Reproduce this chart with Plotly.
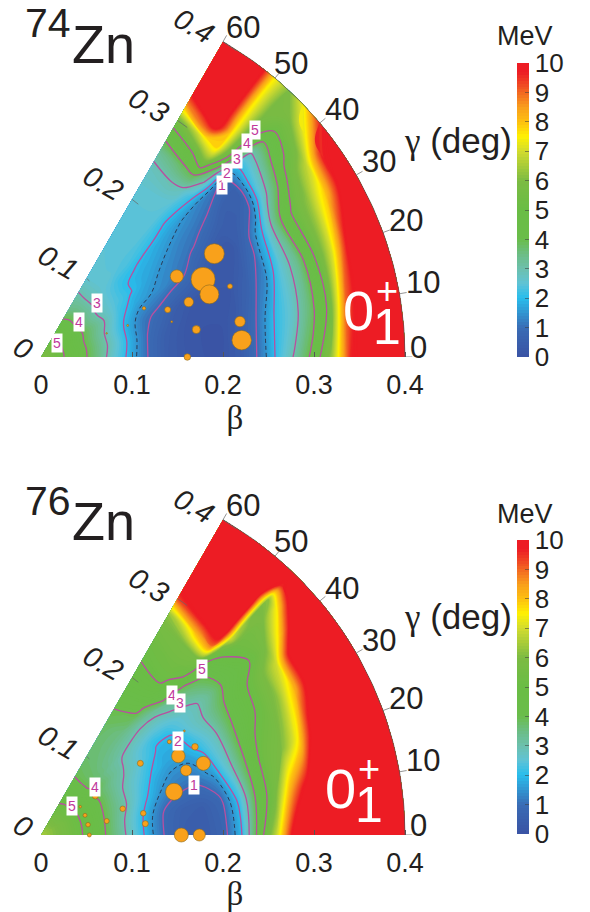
import numpy as np
import plotly.graph_objects as go

beta_grid = [0.0, .02, .04, .06, .08, .10, .12, .14, .16, .18, .20, .22, .24, .26, .28, .30, .32, .34, .36, .38, .40]

gamma_74 = [0, 10, 20, 30, 36, 40, 44, 47, 50, 53, 60]
energy_74 = [
    [6.0, 5.2, 4.45, 3.6, 2.6, 1.7, .9, .4, .2, .1, .1, .4, 1.1, 2.15, 3.15, 4.3, 6.4, 9.6, 10.6, 10.6, 10.6],
    [6.0, 5.2, 4.45, 3.6, 2.75, 1.8, .95, .45, .2, .1, .1, .35, 1.0, 2.0, 2.65, 3.65, 5.1, 9.0, 10.6, 10.6, 10.6],
    [6.0, 5.2, 4.4, 3.6, 2.75, 1.85, 1.15, .8, .4, .2, .15, .2, .6, 1.3, 2.5, 3.4, 5.0, 7.1, 10.2, 10.6, 10.6],
    [6.0, 5.2, 4.5, 3.7, 3.0, 2.2, 1.75, 1.5, 1.3, 1.05, .65, .3, .2, .75, 2.0, 3.7, 5.2, 6.3, 7.9, 10.2, 10.6],
    [6.0, 5.2, 4.5, 3.6, 2.9, 2.4, 2.05, 1.75, 1.5, 1.3, 1.1, .85, .55, .4, .8, 2.6, 3.9, 5.5, 6.8, 9.6, 10.4],
    [6.0, 5.2, 4.5, 3.6, 2.9, 2.45, 2.05, 1.85, 1.7, 1.5, 1.3, 1.15, .95, .6, .5, 2.2, 3.3, 4.6, 5.6, 7.5, 9.6],
    [6.0, 5.2, 4.5, 3.6, 3.0, 2.5, 2.15, 2.05, 1.9, 1.75, 1.6, 1.45, 1.3, 1.15, .9, 2.0, 2.85, 4.0, 5.2, 6.0, 7.3],
    [6.0, 5.2, 4.5, 3.6, 3.0, 2.55, 2.35, 2.3, 2.2, 2.1, 1.95, 2.0, 2.2, 2.9, 3.7, 5.0, 5.4, 5.6, 5.8, 5.8, 6.0],
    [6.0, 5.2, 4.5, 3.6, 3.0, 2.6, 2.5, 2.4, 2.4, 2.4, 2.4, 2.5, 2.85, 3.9, 5.8, 7.8, 8.0, 7.8, 7.6, 7.5, 7.5],
    [6.0, 5.2, 4.5, 3.6, 3.0, 2.6, 2.5, 2.5, 2.45, 2.45, 2.5, 2.6, 3.0, 3.8, 5.1, 7.5, 10.6, 10.6, 10.6, 10.6, 10.6],
    [6.0, 5.1, 4.4, 3.45, 3.05, 2.6, 2.55, 2.5, 2.5, 2.5, 2.5, 2.6, 2.8, 3.3, 4.3, 5.6, 8.6, 10.6, 10.6, 10.6, 10.6],
]

gamma_76 = [0, 10, 20, 30, 36, 40, 44, 46, 48, 52, 60]
energy_76 = [
    [6.5, 5.9, 5.2, 4.5, 3.6, 2.7, 1.65, .8, .45, .4, .7, 1.9, 4.4, 7.0, 10.6, 10.6, 10.6, 10.6, 10.6, 10.6, 10.6],
    [6.5, 5.9, 5.2, 4.5, 3.6, 2.7, 1.7, .85, .55, .5, .8, 2.1, 4.1, 5.6, 8.5, 10.6, 10.6, 10.6, 10.6, 10.6, 10.6],
    [6.5, 5.9, 5.2, 4.5, 3.7, 3.0, 2.15, 1.5, 1.2, 1.15, 1.6, 2.8, 4.1, 5.4, 5.9, 7.5, 10.6, 10.6, 10.6, 10.6, 10.6],
    [6.5, 5.9, 5.2, 4.5, 3.8, 3.1, 2.55, 2.0, 1.7, 1.75, 2.2, 2.85, 3.9, 4.6, 5.3, 6.2, 8.0, 10.6, 10.6, 10.6, 10.6],
    [6.5, 5.8, 5.1, 4.4, 3.8, 3.25, 2.85, 2.35, 1.9, 1.85, 2.55, 3.0, 3.7, 4.4, 5.0, 5.8, 7.0, 10.4, 10.6, 10.6, 10.6],
    [6.5, 5.8, 5.1, 4.4, 3.95, 3.4, 2.95, 2.5, 2.15, 2.25, 2.6, 2.9, 3.35, 4.1, 4.5, 5.05, 5.8, 7.6, 10.4, 10.6, 10.6],
    [6.5, 5.8, 5.1, 4.3, 3.85, 3.4, 3.05, 2.8, 2.7, 2.75, 3.1, 3.4, 3.8, 4.2, 4.95, 5.4, 5.6, 6.0, 7.5, 10.4, 10.6],
    [6.5, 5.8, 5.1, 4.3, 3.8, 3.5, 3.2, 3.0, 2.95, 3.0, 3.3, 3.8, 4.25, 4.8, 5.5, 7.0, 6.4, 5.8, 6.2, 9.5, 10.6],
    [6.5, 5.8, 5.1, 4.3, 3.8, 3.5, 3.3, 3.15, 3.05, 3.3, 4.1, 4.5, 5.2, 5.7, 9.0, 10.6, 10.6, 10.6, 10.6, 10.6, 10.6],
    [6.5, 5.8, 5.1, 4.3, 3.8, 3.6, 3.5, 3.5, 3.8, 4.2, 4.7, 5.2, 5.5, 5.8, 8.3, 10.6, 10.6, 10.6, 10.6, 10.6, 10.6],
    [6.5, 5.7, 5.0, 4.35, 3.85, 3.7, 3.7, 3.8, 4.0, 4.4, 4.75, 5.0, 5.3, 5.6, 6.2, 9.3, 10.6, 10.6, 10.6, 10.6, 10.6],
]

bubble_beta_74 = [.2217, .1735, .1975, .1974, .2217, .1732, .1486, .1252, .2221, .1733, .2213, .1608, .1488, .1014, .0767]
bubble_gamma_74 = [30.8, 30.7, 25.6, 20.4, 20.5, 20.4, 20.5, 25.3, 10.1, 10.0, 4.8, 0, 15.1, 20.0, 19.8]
bubble_size_74 = [20, 13, 24, 19, 5, 9.5, 6, 3.5, 10.5, 8, 19.5, 6.5, 2, 2, 1.5]

bubble_beta_76 = [.1741, .195, .1745, .1537, .195, .1743, .1946, .1346, .0943, .1149, .1153, .0738, .0735, .0532, .053, .0529, .0531, .1542, .174]
bubble_gamma_76 = [29.9, 23.8, 24.0, 18.0, 29.8, 36.0, 36.0, 35.8, 17.8, 12.0, 6.2, 12.0, 35.7, 35.8, 24.1, 12.4, 0, 0, 0]
bubble_size_76 = [13.5, 14, 11, 17, 6.5, 4, 2, 6, 5.5, 5.5, 6, 5, 6, 2.5, 4, 4.5, 4, 14, 12]

label_text_74 = ["5", "4", "3", "1", "2", "3", "4", "5"]
label_beta_74 = [.0234, .0568, .0855, .2744, .2875, .306, .3264, .3428]
label_gamma_74 = [41, 42.6, 44, 43.5, 44.7, 45.3, 46.1, 46.7]

label_text_76 = ["5", "4", "4", "3", "2", "1", "5"]
label_beta_76 = [.0466, .0794, .2107, .2107, .1826, .177, .254]
label_gamma_76 = [43, 41.6, 46.9, 43.5, 34.5, 18, 45.9]

beta_ticks = [0, .1, .2, .3, .4]
gamma_ticks = [0, 10, 20, 30, 40, 50, 60]
gamma_label_dx = [13, 24, 23, 23, 22, 16, 20]
gamma_label_dy = [10, 11, 12, 13, 13, 15, 14]
energy_ticks = list(range(11))

W, H = 590, 912
INK = "#231f20"
SANS = "Liberation Sans"
SERIF = "Liberation Serif"
scale = 910.0

colors = [
    [0.00, "#3a53a4"], [0.10, "#3a6cb5"], [0.20, "#29bdec"], [0.25, "#5fc3d6"],
    [0.30, "#6cc0ae"], [0.35, "#6cbd84"], [0.40, "#6abd4a"], [0.50, "#6abd45"],
    [0.60, "#7cbb43"], [0.70, "#d3dc2e"], [0.75, "#fff200"], [0.80, "#fdc010"],
    [0.85, "#f99d1c"], [0.90, "#f26522"], [0.97, "#ed1c24"], [1.00, "#ed1c24"],
]


def cart(b, g):
    b = np.asarray(b, float)
    g = np.radians(np.asarray(g, float))
    return b * np.cos(g), b * np.sin(g)


fig = go.Figure()
annotations = []


def paper(text, px, py, size, color=INK, family=SANS):
    annotations.append(dict(text=text, xref="paper", yref="paper", x=px / W, y=1 - py / H,
                            xanchor="center", yanchor="middle", showarrow=False,
                            font=dict(size=size, color=color, family=family)))


def panel(sfx, origin_y, gamma, energy, bub_b, bub_g, bub_s, lab_t, lab_b, lab_g,
          mass, mass_xy, zn_xy, zero_dx, cid, gamma_label_y, mev_y, bar_top, dyshift):
    xa, ya = f"x{sfx}", f"y{sfx}"
    bg, gg = np.meshgrid(beta_grid, gamma)
    X, Y = cart(bg, gg)
    fig.add_trace(go.Carpet(carpet=cid, a=beta_grid, b=gamma, x=X.tolist(), y=Y.tolist(),
                            xaxis=xa, yaxis=ya,
                            aaxis=dict(showgrid=False, showticklabels="none", showline=False, minorgridcount=0,
                                       startline=False, endline=False, smoothing=0),
                            baxis=dict(showgrid=False, showticklabels="none", showline=False, minorgridcount=0,
                                       startline=False, endline=False, smoothing=1)))
    fig.add_trace(go.Contourcarpet(carpet=cid, a=beta_grid, b=gamma, z=energy, xaxis=xa, yaxis=ya,
                                   zauto=False, zmin=0, zmax=10, colorscale=colors, autocontour=False,
                                   contours=dict(start=0, end=10, size=0.1, coloring="fill"),
                                   line=dict(width=0, smoothing=1),
                                   colorbar=dict(x=517 / W, xanchor="left", xpad=0, ypad=0, thickness=12, thicknessmode="pixels",
                                                 len=(bar_top[1] - bar_top[0]) / H, lenmode="fraction",
                                                 y=1 - bar_top[1] / H, yanchor="bottom",
                                                 tickvals=energy_ticks, ticks="inside", ticklen=4,
                                                 tickcolor="rgba(60,60,60,0.55)", tickprefix="\u00a0\u00a0\u00a0",
                                                 tickfont=dict(size=26, color=INK, family=SANS),
                                                 outlinewidth=0, borderwidth=0)))
    fig.add_trace(go.Contourcarpet(carpet=cid, a=beta_grid, b=gamma, z=energy, xaxis=xa, yaxis=ya,
                                   showscale=False, autocontour=False,
                                   contours=dict(start=1, end=5, size=1, coloring="none"),
                                   line=dict(width=1.3, color="#b84fa0", smoothing=1)))
    fig.add_trace(go.Contourcarpet(carpet=cid, a=beta_grid, b=gamma, z=energy, xaxis=xa, yaxis=ya,
                                   showscale=False, autocontour=False,
                                   contours=dict(start=1.5, end=1.5, size=1, coloring="none"),
                                   line=dict(width=1, color="#2b3a55", dash="4px,3px", smoothing=1)))
    # sector frame and small tick marks
    arc_g = np.arange(0, 60.5, 1.0)
    ax, ay = cart(np.full_like(arc_g, .4), arc_g)
    fig.add_trace(go.Scatter(x=ax, y=ay, mode="lines", line=dict(color="#555555", width=0.7),
                             xaxis=xa, yaxis=ya, cliponaxis=False, hoverinfo="skip"))
    tx, ty = [], []
    for g in gamma_ticks:
        x0, y0 = cart(.4, g)
        x1, y1 = cart(.408, g)
        tx += [float(x0), float(x1), None]
        ty += [float(y0), float(y1), None]
    for b in beta_ticks[1:]:
        x0, y0 = cart(b, 60)
        x1, y1 = cart(b - .001, 57.5)
        tx += [float(x0), float(x1), None]
        ty += [float(y0), float(y1), None]
    fig.add_trace(go.Scatter(x=tx, y=ty, mode="lines", line=dict(color="#666666", width=0.7),
                             xaxis=xa, yaxis=ya, cliponaxis=False, hoverinfo="skip"))
    bx, by = cart(bub_b, bub_g)
    fig.add_trace(go.Scatter(x=bx, y=by, mode="markers", xaxis=xa, yaxis=ya, cliponaxis=False,
                             marker=dict(size=bub_s, color="#f9a11b", opacity=1, line=dict(color="#8c6a1e", width=0.6))))
    # contour labels
    lx, ly = cart(lab_b, lab_g)
    for t, x, y in zip(lab_t, lx, ly):
        annotations.append(dict(text=t, x=float(x), y=float(y), xref=xa, yref=ya, showarrow=False,
                                bgcolor="white", borderpad=1,
                                font=dict(size=14, color="#c1399c", family=SANS)))
    # beta ticks along the 60 degree edge
    for b in beta_ticks:
        x, y = cart(b, 60)
        annotations.append(dict(text=f"<i>{b:g}</i>", x=float(x), y=float(y), xref=xa, yref=ya, showarrow=False,
                                xshift=-29 if b else -18, yshift=dyshift if b else 9, textangle=30,
                                font=dict(size=29, color=INK, family=SANS)))
    # gamma tick labels on the arc
    for g, dx, dy in zip(gamma_ticks, gamma_label_dx, gamma_label_dy):
        x, y = cart(.4, g)
        annotations.append(dict(text=str(g), x=float(x), y=float(y), xref=xa, yref=ya, showarrow=False,
                                xshift=dx, yshift=dy, font=dict(size=31, color=INK, family=SANS)))
    paper(mass, mass_xy[0], mass_xy[1], 41)
    paper("Zn", zn_xy[0], zn_xy[1], 54)
    paper("<span style='font-family:Liberation Serif'>γ</span> (deg)", 458, gamma_label_y, 35)
    paper("MeV", 525, mev_y, 27)
    paper("0", 358 - zero_dx, origin_y - 47, 56, "white")
    paper("+", 387 - zero_dx, origin_y - 66, 38, "white")
    paper("1", 387 - zero_dx, origin_y - 30, 50, "white")


panel("", 357, gamma_74, energy_74, bubble_beta_74, bubble_gamma_74, bubble_size_74,
      label_text_74, label_beta_74, label_gamma_74, "74", (48, 23), (103, 44), 0, "c74", 141, 36, (63, 357), 16)
panel("2", 835, gamma_76, energy_76, bubble_beta_76, bubble_gamma_76, bubble_size_76,
      label_text_76, label_beta_76, label_gamma_76, "76", (48, 501), (103, 521), 18, "c76", 617, 514, (540, 834), 14)

axis_x = dict(domain=[41 / W, 429 / W], range=[0, 388 / scale], tickvals=beta_ticks, ticktext=["0", "0.1", "0.2", "0.3", "0.4"],
              ticks="inside", ticklen=5, tickcolor="#555555", tickwidth=0.7, showgrid=False, zeroline=False,
              showline=False, tickfont=dict(size=27, color=INK, family=SANS), ticklabelstandoff=9,
              title=dict(text="β", font=dict(size=33, family=SERIF, color=INK), standoff=0))
fig.update_layout(
    width=W, height=H, margin=dict(l=0, r=0, t=0, b=0, autoexpand=False), paper_bgcolor="white", plot_bgcolor="rgba(0,0,0,0)",
    showlegend=False, annotations=annotations,
    xaxis=dict(axis_x, anchor="y", automargin=False),
    yaxis=dict(domain=[1 - 357 / H, 1], range=[0, 356.9 / scale], visible=False, anchor="x"),
    xaxis2=dict(axis_x, anchor="y2", automargin=False),
    yaxis2=dict(domain=[1 - 835 / H, 1 - 479 / H], range=[0, 356 / scale], visible=False, anchor="x2"),
)
fig.write_html("out.html", config={"displayModeBar": False},
               post_script="document.body.style.margin='0';document.body.style.overflow='hidden';")
